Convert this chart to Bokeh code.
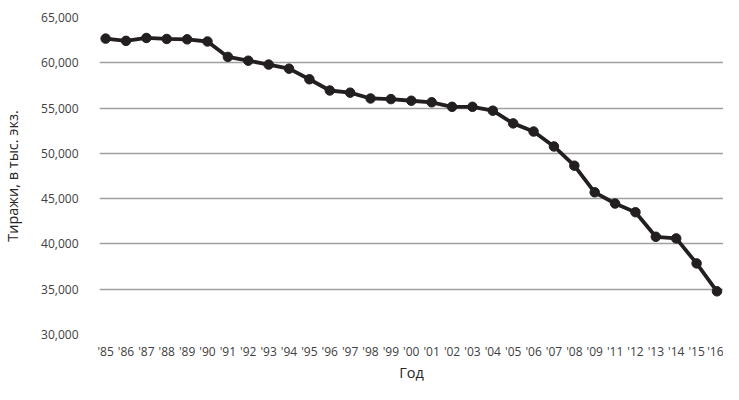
from bokeh.plotting import figure
from bokeh.models import Range1d, FixedTicker, NumeralTickFormatter
from bokeh.embed import file_html
from bokeh.resources import INLINE

years = ["'85", "'86", "'87", "'88", "'89", "'90", "'91", "'92", "'93", "'94",
         "'95", "'96", "'97", "'98", "'99", "'00", "'01", "'02", "'03", "'04",
         "'05", "'06", "'07", "'08", "'09", "'11", "'12", "'13", "'14", "'15", "'16"]
circulation = [62670, 62420, 62740, 62630, 62590, 62350, 60650, 60230, 59800, 59350,
               58180, 56940, 56700, 56060, 55990, 55810, 55640, 55140, 55140, 54710,
               53310, 52410, 50760, 48640, 45700, 44460, 43500, 40790, 40610, 37850, 34770]
y_ticks = [30000, 35000, 40000, 45000, 50000, 55000, 60000, 65000]

xs = list(range(len(years)))

p = figure(width=723, height=384, output_backend="svg", toolbar_location=None,
           x_range=Range1d(-0.3, len(years) - 1 + 0.32),
           y_range=Range1d(30000, 65000),
           min_border_top=17, min_border_right=0, min_border_left=8, min_border_bottom=0)
p.outline_line_color = None

p.line(xs, circulation, line_color="#231f20", line_width=3.8)
p.scatter(xs, circulation, size=9.5, fill_color="#231f20", line_color="#231f20")

p.xaxis.ticker = FixedTicker(ticks=xs)
p.xaxis.major_label_overrides = {i: t for i, t in enumerate(years)}
p.yaxis.ticker = FixedTicker(ticks=y_ticks)
p.yaxis.formatter = NumeralTickFormatter(format="0,0")

for ax in (p.xaxis[0], p.yaxis[0]):
    ax.axis_line_color = None
    ax.major_tick_line_color = None
    ax.minor_tick_line_color = None
    ax.major_label_text_font = "Open Sans"
    ax.major_label_text_font_size = "12px"
    ax.major_label_text_color = "#404040"
    ax.axis_label_text_font = "Open Sans"
    ax.axis_label_text_font_size = "14.5px"
    ax.axis_label_text_font_style = "normal"
    ax.axis_label_text_color = "#262626"

p.xaxis.axis_label = "Год"
p.yaxis.axis_label = "Тиражи, в тыс. экз."
p.xaxis.major_label_standoff = 2
p.xaxis.axis_label_standoff = 0
p.yaxis.major_label_standoff = 15
p.yaxis.axis_label_standoff = 16

p.xgrid.grid_line_color = None
p.ygrid.grid_line_color = "#a0a0a0"
p.ygrid.grid_line_width = 1.5

open("out.html", "w").write(file_html(p, INLINE))
